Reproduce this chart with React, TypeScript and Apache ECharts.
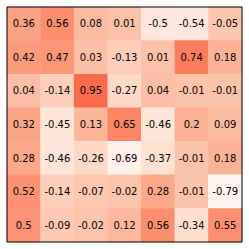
import React, { useEffect, useRef } from "react";
import * as echarts from "echarts";

const cols = ["0", "1", "2", "3", "4", "5", "6"];
const rows = ["0", "1", "2", "3", "4", "5", "6"];
const row0 = [0.36, 0.56, 0.08, 0.01, -0.5, -0.54, -0.05];
const row1 = [0.42, 0.47, 0.03, -0.13, 0.01, 0.74, 0.18];
const row2 = [0.04, -0.14, 0.95, -0.27, 0.04, -0.01, -0.01];
const row3 = [0.32, -0.45, 0.13, 0.65, -0.46, 0.2, 0.09];
const row4 = [0.28, -0.46, -0.26, -0.69, -0.37, -0.01, 0.18];
const row5 = [0.52, -0.14, -0.07, -0.02, 0.28, -0.01, -0.79];
const row6 = [0.5, -0.09, -0.02, 0.12, 0.56, -0.34, 0.55];
const matrix = [row0, row1, row2, row3, row4, row5, row6];

export default function App() {
  const ref = useRef<HTMLDivElement>(null);
  useEffect(() => {
    const chart = echarts.init(ref.current!, null, { renderer: "svg" });
    const data: [number, number, number][] = [];
    matrix.forEach((r, i) => r.forEach((v, j) => data.push([j, i, v])));
    chart.setOption({
      animation: false,
      grid: { left: 7, top: 7, width: 235, height: 235 },
      xAxis: { type: "category", data: cols, show: false },
      yAxis: { type: "category", data: rows, inverse: true, show: false },
      visualMap: {
        show: false,
        type: "continuous",
        min: -0.79,
        max: 0.95,
        inRange: { color: ["#fff5f0", "#fee0d2", "#fcbba1", "#fc9272", "#fb6a4a"] },
      },
      series: [
        {
          type: "heatmap",
          data,
          label: {
            show: true,
            color: "#000",
            fontFamily: "DejaVu Sans",
            fontSize: 10,
            formatter: (p: any) => String(p.value[2]),
          },
          itemStyle: { borderWidth: 0 },
        },
      ],
      graphic: [
        {
          type: "rect",
          shape: { x: 7, y: 7, width: 235, height: 235 },
          style: { fill: "none", stroke: "#000", lineWidth: 1 },
          z: 100,
        },
      ],
    });
    return () => chart.dispose();
  }, []);
  return <div ref={ref} style={{ width: 249, height: 249, position: "absolute", left: 0, top: 0 }} />;
}
